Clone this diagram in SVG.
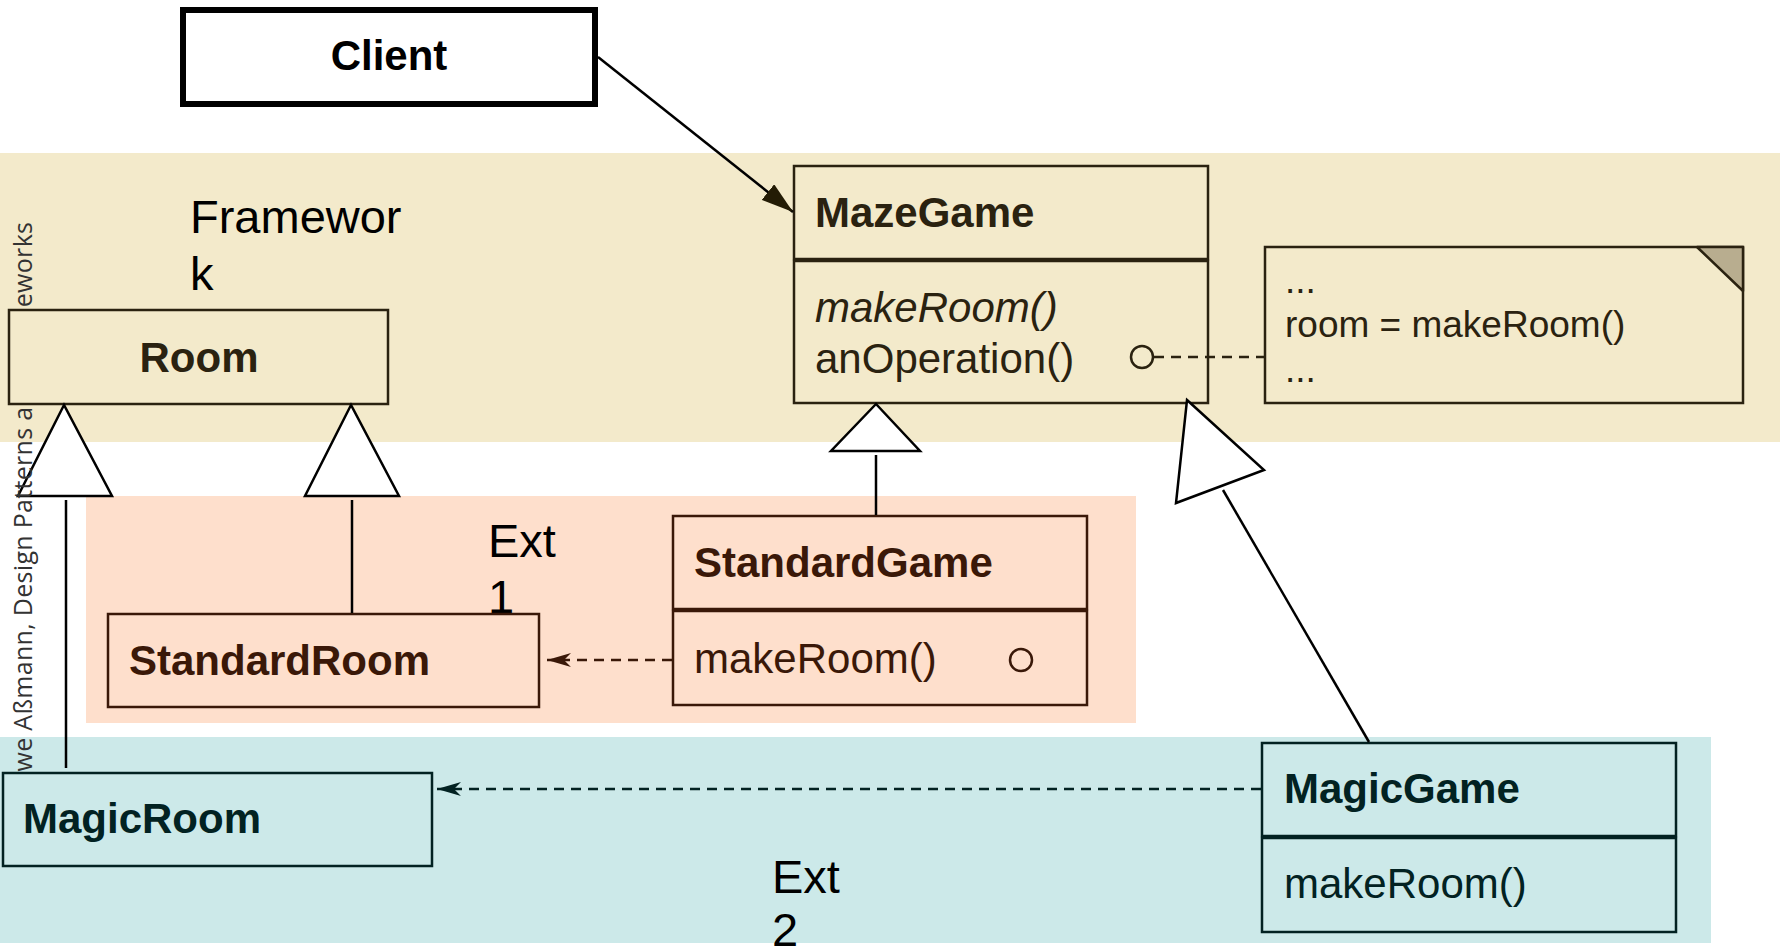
<svg xmlns="http://www.w3.org/2000/svg" width="1783" height="951" viewBox="0 0 1783 951">
  <style>
    .bold { font-family: "Liberation Sans", Arial, sans-serif; font-weight: bold; font-size: 42px; }
    .reg { font-family: "Liberation Sans", Arial, sans-serif; font-size: 42px; }
    .ital { font-family: "Liberation Sans", Arial, sans-serif; font-style: italic; font-size: 42px; }
    .label { font-family: "Liberation Sans", Arial, sans-serif; font-size: 47px; fill: #000; }
    .note { font-family: "Liberation Sans", Arial, sans-serif; font-size: 37px; fill: #2a2210; }
    .fw { fill: #f3eacb; stroke: #2a2210; stroke-width: 2.5; }
    .e1 { fill: #fedfcc; stroke: #3a1808; stroke-width: 2.5; }
    .e2 { fill: #cce9e9; stroke: #022222; stroke-width: 2.5; }
    .fwt { fill: #2a2210; }
    .e1t { fill: #3a1808; }
    .e2t { fill: #022222; }
    .gen { fill: #fff; stroke: #000; stroke-width: 2.5; stroke-linejoin: miter; }
    .line { fill: none; stroke: #000; stroke-width: 2.5; }
    .dash { fill: none; stroke-width: 2.5; stroke-dasharray: 10 7; }
  </style>
  <defs>
    <marker id="filled" viewBox="0 0 32 20" refX="32" refY="10" markerUnits="userSpaceOnUse" markerWidth="32" markerHeight="20" orient="auto">
      <path d="M0,0 L32,10 L0,20 Z" fill="#231c05"/>
    </marker>
    <marker id="dep1" viewBox="0 0 24 14" refX="24" refY="7" markerUnits="userSpaceOnUse" markerWidth="24" markerHeight="14" orient="auto">
      <path d="M0,0 L24,7 L0,14 L7,7 Z" fill="#3a1808"/>
    </marker>
    <marker id="dep2" viewBox="0 0 24 14" refX="24" refY="7" markerUnits="userSpaceOnUse" markerWidth="24" markerHeight="14" orient="auto">
      <path d="M0,0 L24,7 L0,14 L7,7 Z" fill="#022222"/>
    </marker>
    <!-- caption shows only outside the Room and MagicRoom boxes -->
    <clipPath id="captionClip">
      <rect x="0" y="0" width="60" height="309"/>
      <rect x="0" y="405" width="60" height="367"/>
    </clipPath>
  </defs>

  <!-- layer bands -->
  <g id="bands">
    <rect x="0" y="153" width="1780" height="289" fill="#f3eacb"/>
    <rect x="86" y="496" width="1050" height="227" fill="#fedfcc"/>
    <rect x="0" y="737" width="1711" height="206" fill="#cce9e9"/>
  </g>

  <!-- band labels -->
  <g id="labels">
    <text class="label" x="190" y="233">Framewor</text>
    <text class="label" x="190" y="290">k</text>
    <text class="label" x="488" y="557">Ext</text>
    <text class="label" x="488" y="613">1</text>
    <text class="label" x="772" y="893">Ext</text>
    <text class="label" x="772" y="946">2</text>
  </g>

  <g id="client">
    <rect x="183" y="10" width="412" height="94" fill="#fff" stroke="#000" stroke-width="6"/>
    <text class="bold" x="389" y="70" text-anchor="middle" fill="#000">Client</text>
  </g>

  <g id="room">
    <rect class="fw" x="9" y="310" width="379" height="94"/>
    <text class="bold fwt" x="199" y="372" text-anchor="middle">Room</text>
  </g>

  <g id="mazegame">
    <rect class="fw" x="794" y="166" width="414" height="93"/>
    <rect class="fw" x="794" y="261" width="414" height="142"/>
    <text class="bold fwt" x="815" y="227">MazeGame</text>
    <text class="ital fwt" x="815" y="322">makeRoom()</text>
    <text class="reg fwt" x="815" y="373">anOperation()</text>
    <circle cx="1142" cy="357" r="11" fill="none" stroke="#2a2210" stroke-width="2.5"/>
  </g>

  <g id="note">
    <rect class="fw" x="1265" y="247" width="478" height="156"/>
    <path d="M1697,247 L1743,247 L1743,291 Z" fill="#b8ad8f" stroke="#2a2210" stroke-width="2.5" stroke-linejoin="round"/>
    <text class="note" x="1285" y="293">...</text>
    <text class="note" x="1285" y="337">room = makeRoom()</text>
    <text class="note" x="1285" y="382">...</text>
  </g>

  <g id="standardgame">
    <rect class="e1" x="673" y="516" width="414" height="93"/>
    <rect class="e1" x="673" y="611" width="414" height="94"/>
    <text class="bold e1t" x="694" y="577">StandardGame</text>
    <text class="reg e1t" x="694" y="673">makeRoom()</text>
    <circle cx="1021" cy="660" r="11" fill="none" stroke="#3a1808" stroke-width="2.5"/>
  </g>

  <g id="standardroom">
    <rect class="e1" x="108" y="614" width="431" height="93"/>
    <text class="bold e1t" x="129" y="675">StandardRoom</text>
  </g>

  <g id="magicroom">
    <rect class="e2" x="3" y="773" width="429" height="93"/>
    <text class="bold e2t" x="23" y="833">MagicRoom</text>
  </g>

  <g id="magicgame">
    <rect class="e2" x="1262" y="743" width="414" height="93"/>
    <rect class="e2" x="1262" y="838" width="414" height="94"/>
    <text class="bold e2t" x="1284" y="803">MagicGame</text>
    <text class="reg e2t" x="1284" y="898">makeRoom()</text>
  </g>

  <!-- connectors -->
  <g id="connectors">
    <!-- Client uses MazeGame -->
    <line class="line" x1="598" y1="57" x2="793" y2="212" stroke="#000" stroke-width="3" marker-end="url(#filled)"/>
    <!-- StandardRoom / MagicRoom inherit Room -->
    <polygon class="gen" points="64,405 18,496 112,496"/>
    <line class="line" x1="66" y1="500" x2="66" y2="768"/>
    <polygon class="gen" points="351,405 305,496 399,496"/>
    <line class="line" x1="352" y1="500" x2="352" y2="613"/>
    <!-- StandardGame inherits MazeGame -->
    <polygon class="gen" points="876,404 831,451 920,451"/>
    <line class="line" x1="876" y1="455" x2="876" y2="515"/>
    <!-- MagicGame inherits MazeGame -->
    <polygon class="gen" points="1187,400 1264,470 1176,503"/>
    <line class="line" x1="1223" y1="490" x2="1369" y2="742"/>
    <!-- anOperation note link -->
    <line class="dash" x1="1154" y1="357" x2="1264" y2="357" stroke="#2a2210"/>
    <!-- factory methods create rooms -->
    <line class="dash" x1="672" y1="660" x2="547" y2="660" stroke="#3a1808" marker-end="url(#dep1)"/>
    <line class="dash" x1="1261" y1="789" x2="437" y2="789" stroke="#022222" marker-end="url(#dep2)"/>
  </g>

  <!-- side caption -->
  <g clip-path="url(#captionClip)">
    <text transform="translate(32,790) rotate(-90)" font-family="'Open Sans', 'Liberation Sans', sans-serif" font-size="25" fill="#333" textLength="568" lengthAdjust="spacing">Uwe Aßmann, Design Patterns and Frameworks</text>
  </g>
</svg>
